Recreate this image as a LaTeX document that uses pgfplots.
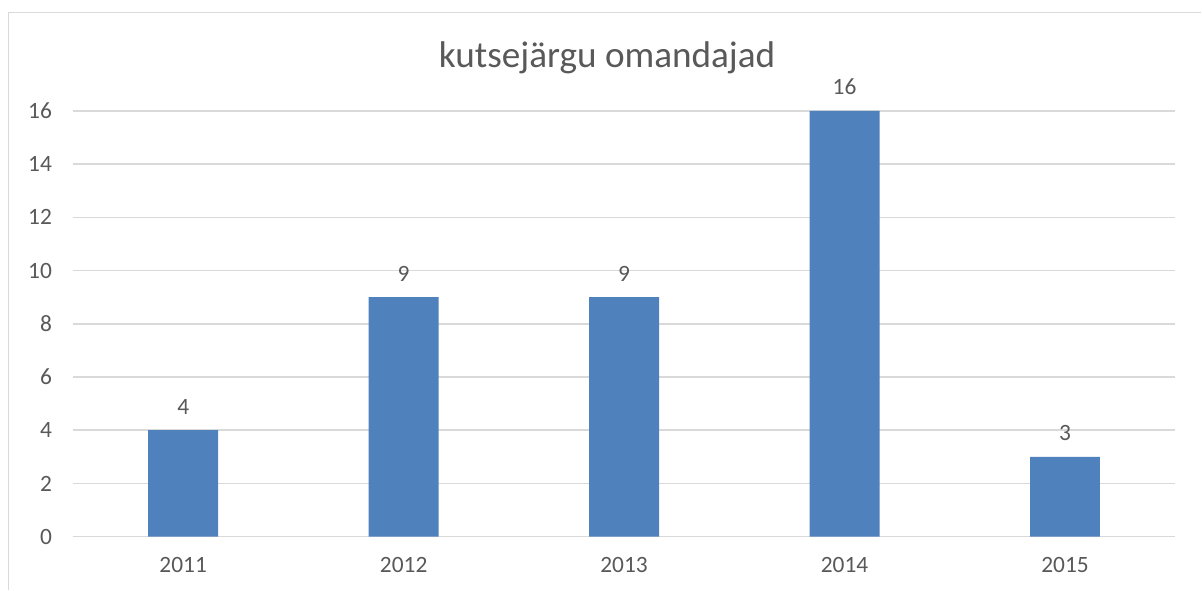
\documentclass[border=0pt]{standalone}
\usepackage{fontspec}
\setmainfont{Carlito}
\usepackage{pgfplots}
\pgfplotsset{compat=1.18}
\definecolor{txt}{HTML}{595959}
\definecolor{barblue}{HTML}{4F81BD}
\definecolor{gridc}{HTML}{D9D9D9}
\begin{document}
\begin{tikzpicture}
\path[fill=white] (0pt,0pt) rectangle (601pt,295pt);
\draw[gridc, line width=0.8pt] (4.25pt,0pt) -- (4.25pt,288.75pt) -- (601pt,288.75pt);
\node[anchor=base, text=txt, font=\fontsize{18.6}{22}\selectfont, inner sep=0pt] at (303.75pt,261pt) {kutsejärgu omandajad};
\begin{axis}[
  at={(36.5pt,26.5pt)}, anchor=south west,
  scale only axis, width=551.5pt, height=213pt,
  ymin=0, ymax=16, ytick={0,2,...,16},
  xmin=-0.5, xmax=4.5, xtick=data,
  xticklabels={2011,2012,2013,2014,2015},
  axis line style={draw=none},
  axis x line*=bottom,
  x axis line style={draw=gridc, line width=0.8pt},
  major tick length=0pt,
  ymajorgrids, grid style={gridc, line width=0.8pt},
  tick label style={text=txt, font=\fontsize{11.7}{14}\selectfont},
  /pgf/number format/assume math mode=true,
  xticklabel style={yshift=-7pt},
  yticklabel style={xshift=-7pt},
  ybar, bar width=35pt,
  nodes near coords,
  every node near coord/.append style={text=txt, font=\fontsize{11.7}{14}\selectfont, yshift=4.5pt},
  clip=false,
]
\addplot[fill=barblue, draw=none] coordinates {(0,4) (1,9) (2,9) (3,16) (4,3)};
\end{axis}
\end{tikzpicture}
\end{document}
